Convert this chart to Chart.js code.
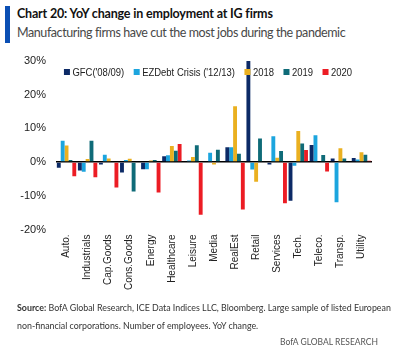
<!DOCTYPE html>
<html>
<head>
<meta charset="utf-8">
<script src="https://cdn.jsdelivr.net/npm/chart.js@4/dist/chart.umd.min.js"></script>
<style>
  html, body { margin:0; padding:0; background:#fff; }
  body { width:393px; height:354px; position:relative; overflow:hidden; font-family: Lato, "Open Sans", sans-serif; }
  #c { position:absolute; left:0; top:0; }
  .accent { position:absolute; left:5px; top:6px; width:5px; height:37px; background:#0b4fb4; }
  .title { position:absolute; left:17px; top:6px; font-weight:bold; font-size:12.5px; color:#111; white-space:nowrap; letter-spacing:-0.18px; }
  .subtitle { position:absolute; left:17px; top:25px; font-size:12.5px; color:#484848; white-space:nowrap; letter-spacing:-0.42px; }
  .source { position:absolute; left:17px; top:299px; font-size:8.85px; color:#333; line-height:18px; white-space:nowrap; }
  .brand { position:absolute; right:15px; top:337px; font-size:8.5px; color:#555; white-space:nowrap; }
</style>
</head>
<body>
<div class="accent"></div>
<div class="title">Chart 20: YoY change in employment at IG firms</div>
<div class="subtitle">Manufacturing firms have cut the most jobs during the pandemic</div>
<canvas id="c" width="393" height="354"></canvas>
<div class="source"><b>Source:</b> BofA Global Research, ICE Data Indices LLC, Bloomberg. Large sample of listed European<br>non-financial corporations. Number of employees. YoY change.</div>
<div class="brand">BofA GLOBAL RESEARCH</div>
<script>
const categories = ['Auto.','Industrials','Cap.Goods','Cons.Goods','Energy','Healthcare','Leisure','Media','RealEst','Retail','Services','Tech.','Teleco.','Transp.','Utility'];
const seriesNames = ["GFC('08/09)", "EZDebt Crisis ('12/13)", '2018', '2019', '2020'];
const gfc   = [-1.7,-2.5,-0.7,-3.1,-2.1, 1.7, null, null, 4.4, 30, -0.7,-11.5, 5.1, 1.1, 1.2];
const ezDebt= [ 6.3,-2.9, 2.2, 0.6,-2.1, 2.0, 0.5, 2.8, 4.4,-2.2, 7.7, -1.1, 8.0,-11.9, 0.8];
const y2018 = [ 4.9, 0.9, 1.1, 1.0, 0.5, 4.8, 1.5,-0.7,16.6,-5.8, 1.3,  9.2, null, 4.1, 2.9];
const y2019 = [ 0.6, 6.3, null,-8.7, 0.6, 3.4, 5.0, 3.7, 2.5, 7.0, 3.3,  5.5, 2.1, 1.1, 2.2];
const y2020 = [-4.2,-4.5,-7.5, null,-9.0, 5.4,-15.6,null,-14.1,null,-12.2, 3.6,-2.8, null, 0.4];
const yTicks = [-20, -10, 0, 10, 20, 30];

const colors = ['#0c2a66', '#1ca5de', '#eab020', '#0f6b78', '#ec1c24'];
const values = [gfc, ezDebt, y2018, y2019, y2020];
const sans = '"Liberation Sans", Arial, sans-serif';

// Legend drawn inside the plot area (one row), narrow-looking text
const inlineLegend = {
  id: 'inlineLegend',
  afterDatasetsDraw(chart) {
    const ctx = chart.ctx;
    const ds = chart.data.datasets;
    const fontSize = 11, sx = 0.86, box = 6, boxGap = 2.5, itemGap = 9.5;
    ctx.save();
    ctx.font = fontSize + 'px ' + sans;
    const widths = ds.map(d => ctx.measureText(d.label).width * sx);
    const total = widths.reduce((a, w) => a + box + boxGap + w, 0) + itemGap * (ds.length - 1);
    const cx = 208;
    const cy = chart.chartArea.top + 11;
    let x = cx - total / 2;
    ctx.textBaseline = 'middle';
    ds.forEach((d, i) => {
      ctx.fillStyle = d.backgroundColor;
      ctx.fillRect(x, cy - box / 2, box, box);
      x += box + boxGap;
      ctx.save();
      ctx.translate(x, cy);
      ctx.scale(sx, 1);
      ctx.fillStyle = '#222';
      ctx.fillText(d.label, 0, 0.5);
      ctx.restore();
      x += widths[i] + itemGap;
    });
    ctx.restore();
  }
};

new Chart(document.getElementById('c'), {
  type: 'bar',
  data: {
    labels: categories,
    datasets: values.map((v, i) => ({
      label: seriesNames[i],
      data: v,
      backgroundColor: colors[i],
      borderWidth: 0,
      categoryPercentage: 0.92,
      barPercentage: 1.0
    }))
  },
  plugins: [inlineLegend],
  options: {
    responsive: false,
    devicePixelRatio: 1,
    animation: false,
    layout: { padding: { top: 61, right: 21, left: 0, bottom: 0 } },
    plugins: {
      tooltip: { enabled: false },
      legend: { display: false }
    },
    scales: {
      x: {
        grid: { display: false, drawTicks: false },
        border: { display: false },
        ticks: {
          autoSkip: false, minRotation: 90, maxRotation: 90, padding: 5,
          color: '#222', font: { family: sans, size: 10 }
        },
        afterFit: s => { s.height = 124.5; }
      },
      y: {
        min: -20, max: 30,
        afterBuildTicks: s => { s.ticks = yTicks.map(v => ({ value: v })); },
        grid: {
          drawTicks: false,
          color: c => (c.tick && c.tick.value === 0) ? '#000' : 'rgba(0,0,0,0)',
          lineWidth: c => (c.tick && c.tick.value === 0) ? 1.5 : 0
        },
        border: { display: false },
        ticks: {
          padding: 10, color: '#222',
          font: { family: sans, size: 11 },
          callback: v => v + '%'
        },
        afterFit: s => { s.width = 56; }
      }
    }
  }
});
</script>
</body>
</html>
